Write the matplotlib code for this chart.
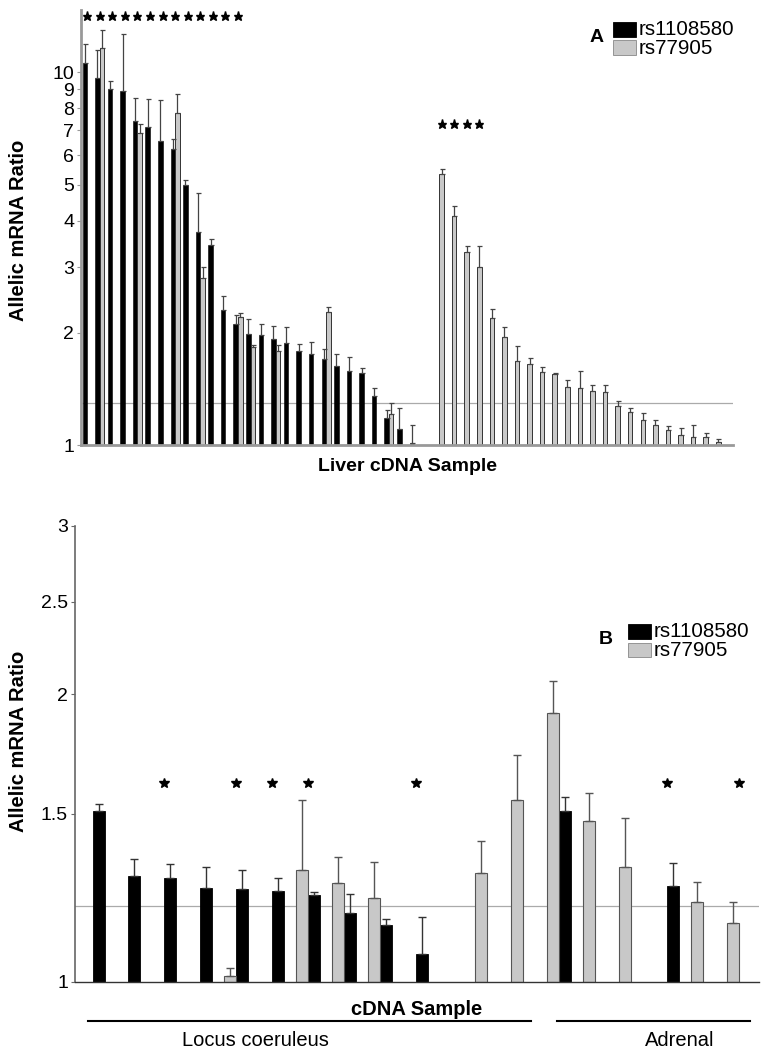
import numpy as np
import matplotlib.pyplot as plt
from matplotlib.patches import Rectangle
from matplotlib.ticker import NullLocator

plt.rcParams['font.family'] = ['Liberation Sans', 'DejaVu Sans']

# ---- panel A: liver cDNA samples (index 0..50, 27 is empty) ----
a_black = [10.57, 9.66, 9.0, 8.91, 7.39, 7.15, 6.54, 6.24, 5.0, 3.73, 3.44,
           2.30, 2.11, 1.98, 1.97, 1.92, 1.88, 1.79, 1.76, 1.70, 1.63, 1.58,
           1.56, 1.355, 1.18, 1.106, 1.01]
a_black_err = [1.33, 1.84, 0.46, 3.79, 1.16, 1.33, 1.87, 0.40, 0.13, 1.01, 0.14,
               0.21, 0.12, 0.20, 0.14, 0.16, 0.19, 0.08, 0.13, 0.11, 0.12, 0.14,
               0.05, 0.065, 0.06, 0.154, 0.12]
a_gray_idx = [1, 4, 7, 9, 12, 13, 15, 19, 24] + list(range(28, 51))
a_gray = [11.6, 6.88, 7.78, 2.80, 2.20, 1.835, 1.79, 2.28, 1.21,
          5.35, 4.12, 3.29, 3.0, 2.19, 1.95, 1.68, 1.65, 1.57, 1.55, 1.43, 1.42,
          1.40, 1.39, 1.27, 1.226, 1.164, 1.13, 1.097, 1.064, 1.05, 1.05, 1.017]
a_gray_err = [1.4, 0.41, 0.99, 0.20, 0.06, 0.025, 0.06, 0.07, 0.09,
              0.17, 0.26, 0.13, 0.42, 0.13, 0.12, 0.16, 0.06, 0.05, 0.01, 0.06, 0.16,
              0.045, 0.055, 0.04, 0.034, 0.056, 0.034, 0.028, 0.046, 0.08, 0.024, 0.019]
a_star_black = list(range(13))
a_star_gray = [28, 29, 30, 31]
a_threshold = 1.30
a_ticks = [1, 2, 3, 4, 5, 6, 7, 8, 9, 10]

# ---- panel B: locus coeruleus + adrenal (index 0..18) ----
b_black_idx = [0, 1, 2, 3, 4, 5, 6, 7, 8, 9, 13, 16]
b_black = [1.51, 1.291, 1.284, 1.255, 1.251, 1.244, 1.232, 1.18, 1.146, 1.069, 1.509, 1.261]
b_black_err = [0.024, 0.054, 0.046, 0.063, 0.06, 0.042, 0.01, 0.056, 0.017, 0.10, 0.051, 0.07]
b_gray_idx = [4, 6, 7, 8, 11, 12, 13, 14, 15, 17, 18]
b_gray = [1.014, 1.311, 1.269, 1.223, 1.301, 1.552, 1.91, 1.475, 1.32, 1.212, 1.152]
b_gray_err = [0.021, 0.241, 0.081, 0.111, 0.103, 0.175, 0.153, 0.10, 0.166, 0.061, 0.062]
b_star = [2, 4, 5, 6, 9, 16, 18]
b_threshold = 1.20
b_ticks = [1, 1.5, 2, 2.5, 3]

labels = ["rs1108580", "rs77905"]
gray_fc = "#c8c8c8"

fig = plt.figure(figsize=(7.68, 10.5), dpi=100)
W, H = 768, 1050

def fig_rect(x0, y0, x1, y1):
    return [x0 / W, 1 - y1 / H, (x1 - x0) / W, (y1 - y0) / H]

def key(letter, lx, x0, y0):
    fig.text(lx / W, 1 - (y0 + 16) / H, letter, fontsize=14, fontweight="bold",
             ha="center", va="center")
    for k, (fc, ec) in enumerate([("black", "black"), (gray_fc, "#888888")]):
        yy = y0 + k * 18.5
        fig.patches.append(Rectangle((x0 / W, 1 - (yy + 14.5) / H), 23 / W, 14.5 / H,
                                     transform=fig.transFigure, fc=fc, ec=ec, lw=0.6))
        fig.text((x0 + 26) / W, 1 - (yy + 7.5) / H, labels[k], fontsize=14.8,
                 ha="left", va="center")

# ================= A =================
axA = fig.add_axes(fig_rect(81, 10, 733, 445))
w = 0.36
bx = np.arange(len(a_black))
gx = np.array(a_gray_idx)
axA.bar(bx - w / 2, np.array(a_black) - 1, bottom=1, width=w, color="black",
        edgecolor="black", linewidth=0.4)
axA.bar(gx + w / 2, np.array(a_gray) - 1, bottom=1, width=w, color=gray_fc,
        edgecolor="#333333", linewidth=0.7)
axA.errorbar(bx - w / 2, a_black, yerr=[np.zeros(len(a_black)), a_black_err],
             fmt="none", ecolor="#444444", elinewidth=0.9, capsize=1.8, capthick=0.9)
axA.errorbar(gx + w / 2, a_gray, yerr=[np.zeros(len(a_gray)), a_gray_err],
             fmt="none", ecolor="#444444", elinewidth=0.9, capsize=1.8, capthick=0.9)
axA.axhline(a_threshold, color="#aaaaaa", lw=0.9, zorder=0.5)
axA.plot(a_star_black, [14.15] * len(a_star_black), ls="none", marker="*",
         color="black", ms=6.5, clip_on=False)
axA.plot(np.array(a_star_gray) + w / 2, [7.25] * len(a_star_gray), ls="none",
         marker="*", color="black", ms=6.5)
axA.set_yscale("log")
axA.set_ylim(1, 14.7)
axA.set_xlim(-0.48, 51.35)
axA.set_yticks(a_ticks)
axA.set_yticklabels([str(t) for t in a_ticks])
axA.yaxis.set_minor_locator(NullLocator())
axA.set_xticks([])
axA.tick_params(axis="y", length=3, color="#999999", labelsize=14, pad=2)
for s in ["top", "right"]:
    axA.spines[s].set_visible(False)
for s in ["left", "bottom"]:
    axA.spines[s].set_color("#999999")
    axA.spines[s].set_linewidth(2)
axA.set_xlabel("Liver cDNA Sample", fontsize=14, fontweight="bold")
axA.xaxis.set_label_coords(0.5, -0.031)
fig.text(19 / W, 1 - 230 / H, "Allelic mRNA Ratio", rotation=90, fontsize=14.5,
         fontweight="bold", ha="center", va="center")
key("A", 597, 613, 22)

# ================= B =================
axB = fig.add_axes(fig_rect(75, 526, 759, 982))
wb = 0.335
bbx = np.array(b_black_idx)
bgx = np.array(b_gray_idx)
axB.bar(bbx + wb / 2, np.array(b_black) - 1, bottom=1, width=wb, color="black",
        edgecolor="black", linewidth=0.6)
axB.bar(bgx - wb / 2, np.array(b_gray) - 1, bottom=1, width=wb, color=gray_fc,
        edgecolor="#555555", linewidth=0.8)
axB.errorbar(bbx + wb / 2, b_black, yerr=[np.zeros(len(b_black)), b_black_err],
             fmt="none", ecolor="#333333", elinewidth=1, capsize=3, capthick=1)
axB.errorbar(bgx - wb / 2, b_gray, yerr=[np.zeros(len(b_gray)), b_gray_err],
             fmt="none", ecolor="#555555", elinewidth=1, capsize=3, capthick=1)
axB.axhline(b_threshold, color="#aaaaaa", lw=0.9, zorder=0.5)
axB.plot(b_star, [1.616] * len(b_star), ls="none", marker="*", color="black", ms=7)
axB.set_yscale("log")
axB.set_ylim(1, 3)
axB.set_xlim(-0.49, 18.57)
axB.set_yticks(b_ticks)
axB.set_yticklabels([str(t) for t in b_ticks])
axB.yaxis.set_minor_locator(NullLocator())
axB.set_xticks([])
axB.tick_params(axis="y", length=3, color="#666666", labelsize=14, pad=2)
for s in ["top", "right"]:
    axB.spines[s].set_visible(False)
axB.spines["left"].set_color("#666666")
axB.spines["left"].set_linewidth(1.2)
axB.spines["bottom"].set_color("#333333")
axB.spines["bottom"].set_linewidth(1)
axB.set_xlabel("cDNA Sample", fontsize=14.5, fontweight="bold")
axB.xaxis.set_label_coords(0.5, -0.04)
fig.text(19 / W, 1 - 741 / H, "Allelic mRNA Ratio", rotation=90, fontsize=14.5,
         fontweight="bold", ha="center", va="center")

tr = axB.get_xaxis_transform()
line_y = -0.0855
for x0, x1, name, xc in [(-0.12, 12.21, "Locus coeruleus", 4.55),
                         (12.95, 18.33, "Adrenal", 16.35)]:
    axB.plot([x0, x1], [line_y, line_y], color="black", lw=1.5, transform=tr,
             clip_on=False)
    axB.text(xc, -0.128, name, transform=tr, fontsize=14.5, ha="center", va="center")
key("B", 606, 628, 624)

fig.savefig("out.png", dpi=100)
